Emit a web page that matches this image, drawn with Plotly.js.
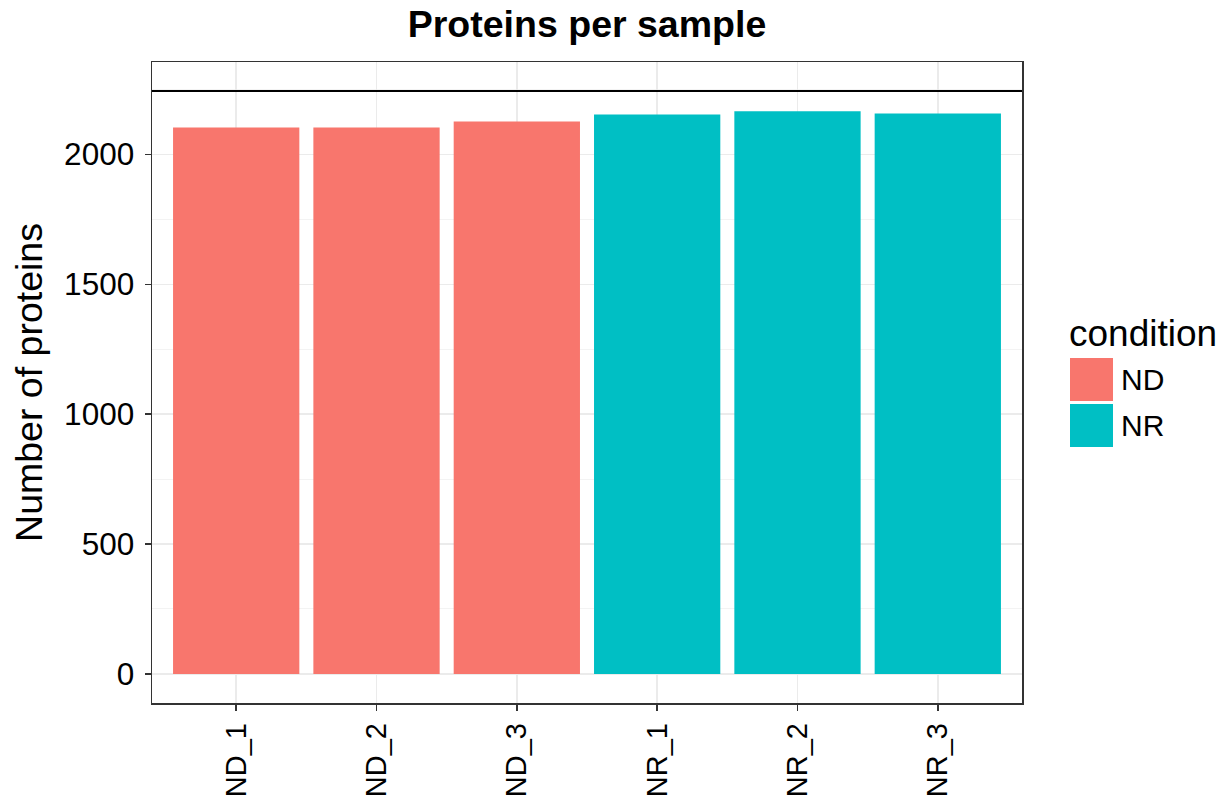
<!DOCTYPE html>
<html>
<head>
<meta charset="utf-8">
<script src="https://cdn.plot.ly/plotly-3.0.1.min.js"></script>
<style>html,body{margin:0;padding:0;background:#fff;}#chart{width:1228px;height:808px;}</style>
</head>
<body>
<div id="chart"></div>
<script>
// ---- data ----
const samples = ["ND_1", "ND_2", "ND_3", "NR_1", "NR_2", "NR_3"];
const proteinCounts = [2104, 2104, 2127, 2154, 2166, 2158];
const sampleCondition = ["ND", "ND", "ND", "NR", "NR", "NR"];
const conditions = ["ND", "NR"];
const conditionColors = ["#F8766D", "#00BFC4"];
const referenceLine = [2244];
const yTickValues = [0, 500, 1000, 1500, 2000];
const yTickLabels = ["0", "500", "1000", "1500", "2000"];

// ---- layout helpers (pixel geometry) ----
const W = 1228, H = 808;
const plotL = 152, plotR = 1022, plotT = 62, plotB = 703;
const pw = plotR - plotL, ph = plotB - plotT;
const px2x = p => (p - plotL) / pw;
const px2y = p => (plotB - p) / ph;
const FONT = "Liberation Sans, Arial, Helvetica, sans-serif";

const colorOf = c => conditionColors[conditions.indexOf(c)];

const trace = {
  type: "bar",
  x: samples,
  y: proteinCounts,
  marker: { color: sampleCondition.map(colorOf), line: { width: 0 } },
  showlegend: false,
  hoverinfo: "x+y"
};

const shapes = [];
const annotations = [];

// reference line
referenceLine.forEach(v => shapes.push({
  type: "line", xref: "paper", yref: "y", x0: 0, x1: 1, y0: v, y1: v,
  line: { color: "#000000", width: 2 }, layer: "above"
}));

// manual legend
annotations.push({
  xref: "paper", yref: "paper", x: px2x(1067), y: px2y(333),
  xanchor: "left", yanchor: "middle", showarrow: false,
  text: "condition", font: { family: FONT, size: 37, color: "#000" }
});
const keyTops = [358, 404];
conditions.forEach((c, i) => {
  const t = keyTops[i];
  shapes.push({
    type: "rect", xref: "paper", yref: "paper",
    x0: px2x(1070), x1: px2x(1113), y0: px2y(t), y1: px2y(t + 43),
    fillcolor: conditionColors[i], line: { width: 0 }
  });
  annotations.push({
    xref: "paper", yref: "paper", x: px2x(1119), y: px2y(t + 21.5),
    xanchor: "left", yanchor: "middle", showarrow: false,
    text: c, font: { family: FONT, size: 30, color: "#000" }
  });
});

const layout = {
  width: W, height: H,
  margin: { l: plotL, r: W - plotR, t: plotT, b: H - plotB, pad: 0 },
  paper_bgcolor: "#ffffff",
  plot_bgcolor: "#ffffff",
  font: { family: FONT, color: "#000" },
  title: {
    text: "<b>Proteins per sample</b>",
    font: { family: FONT, size: 37.5, color: "#000" },
    x: 587 / W, xanchor: "center", xref: "container",
    y: 1 - 24 / H, yanchor: "middle", yref: "container"
  },
  bargap: 0.1,
  xaxis: {
    type: "category",
    range: [-0.6, samples.length - 0.4],
    showgrid: true, gridcolor: "#EBEBEB", gridwidth: 1.5,
    showline: true, linecolor: "#333333", linewidth: 1.5, mirror: true,
    ticks: "outside", ticklen: 6, tickwidth: 1.5, tickcolor: "#333333",
    tickangle: -90, ticklabelstandoff: 1,
    tickfont: { family: FONT, size: 29, color: "#000" },
    zeroline: false, fixedrange: true
  },
  yaxis: {
    range: [-112, 2356],
    tickmode: "array", tickvals: yTickValues, ticktext: yTickLabels,
    showgrid: true, gridcolor: "#EBEBEB", gridwidth: 1.5,
    minor: { dtick: 250, showgrid: true, gridcolor: "#F3F3F3", gridwidth: 1, ticks: "" },
    showline: true, linecolor: "#333333", linewidth: 1.5, mirror: true,
    ticks: "outside", ticklen: 6, tickwidth: 1.5, tickcolor: "#333333",
    ticklabelstandoff: 4,
    tickfont: { family: FONT, size: 31.5, color: "#000" },
    title: { text: "Number of proteins", font: { family: FONT, size: 37.5, color: "#000" }, standoff: 10 },
    zeroline: false, fixedrange: true
  },
  shapes: shapes,
  annotations: annotations
};

Plotly.newPlot("chart", [trace], layout, { staticPlot: true, displayModeBar: false });
</script>
</body>
</html>
